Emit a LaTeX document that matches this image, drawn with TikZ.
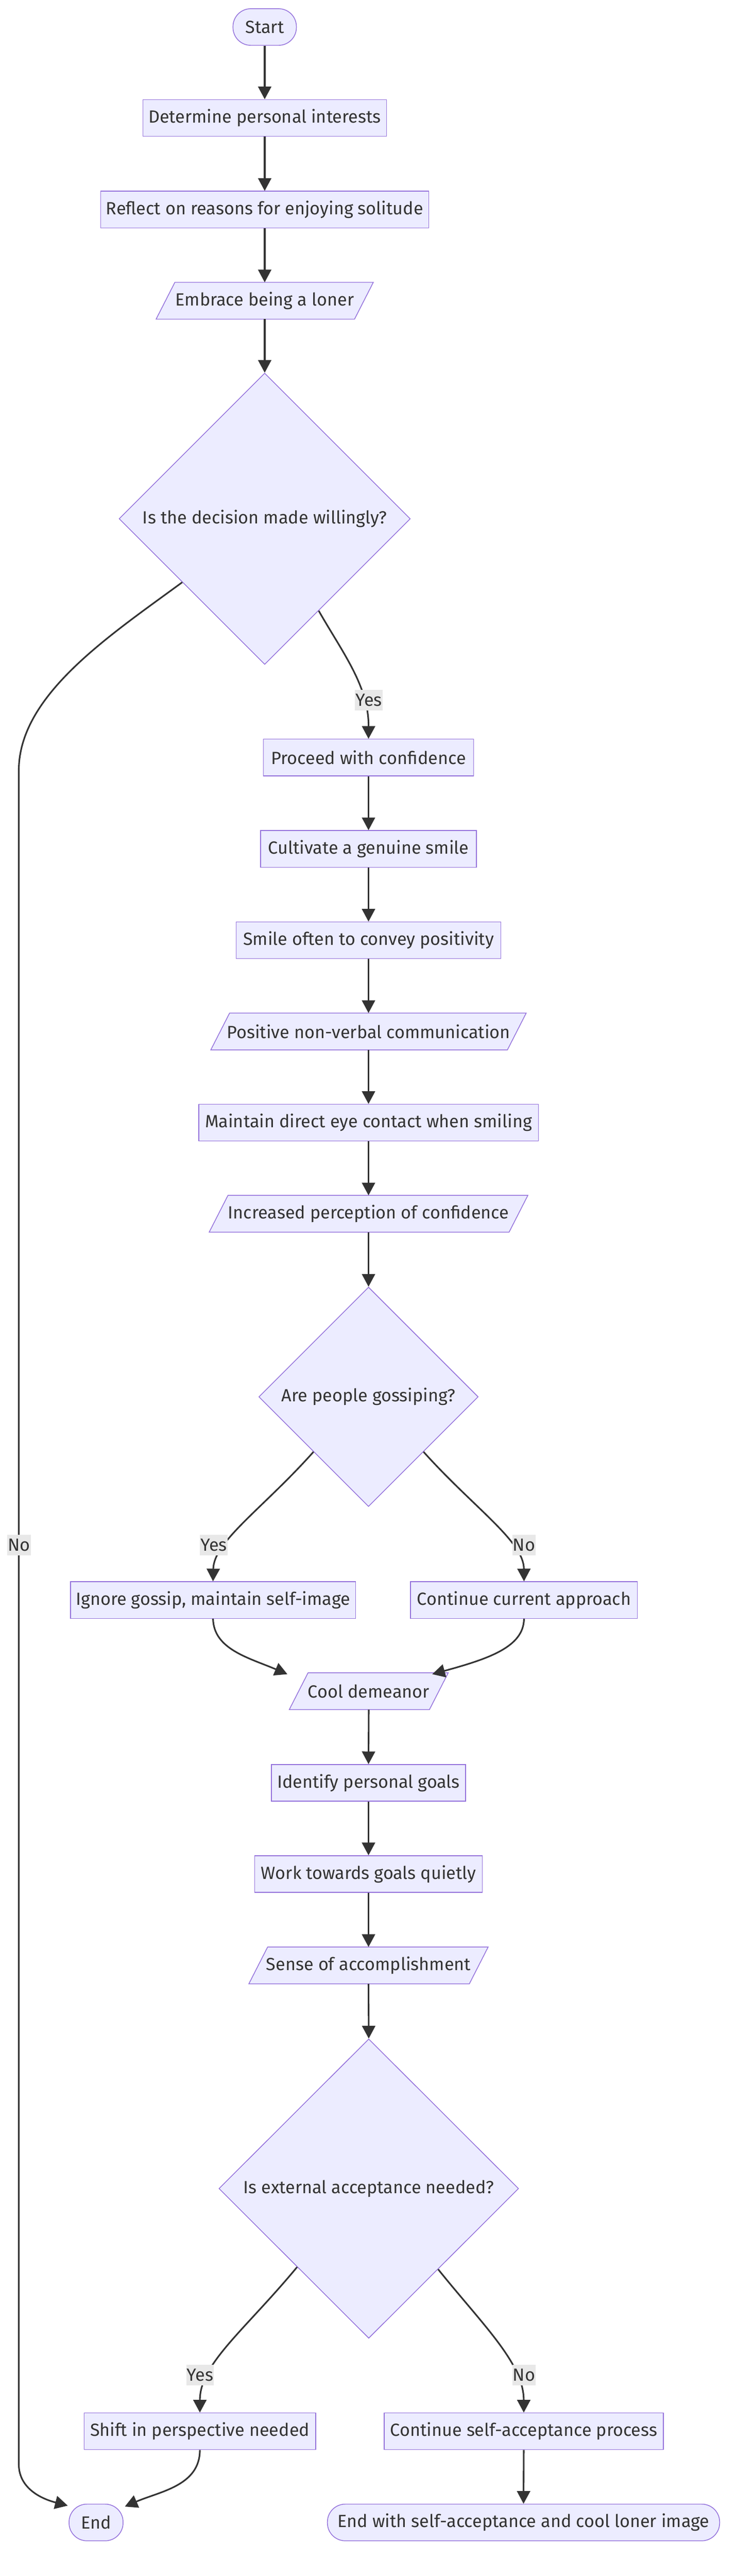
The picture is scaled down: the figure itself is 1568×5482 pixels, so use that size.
\documentclass[tikz,border=0pt]{standalone}
\usepackage{fontspec}
\setmainfont{Fira Sans}
\usetikzlibrary{shapes.geometric,arrows.meta,backgrounds,calc}
\definecolor{nfill}{HTML}{ECECFF}
\definecolor{nstroke}{HTML}{9370DB}
\definecolor{ecol}{HTML}{333333}
\definecolor{lbg}{HTML}{E8E8E8}
\definecolor{tcol}{HTML}{333333}
\tikzset{
  base/.style={font=\fontsize{37.5}{45}\selectfont, text=tcol, inner sep=0pt, align=center},
  procbox/.style={base, draw=nstroke, fill=nfill, line width=1.6pt, minimum height=78pt},
  termbox/.style={procbox, rounded corners=38pt},
  iobox/.style={base, minimum height=78pt},
  decbox/.style={base, diamond, draw=nstroke, fill=nfill, line width=1.6pt},
  flow/.style={draw=ecol, line width=3.4pt, -{Triangle[length=27pt,width=28pt]}},
  elabel/.style={base, fill=lbg, minimum height=44pt, inner xsep=1pt},
}
\newcommand\iopoly[1]{%
  \begin{pgfonlayer}{background}
    \draw[draw=nstroke, fill=nfill, line width=1.6pt]
      (#1.south west) -- ([xshift=40pt]#1.north west) -- (#1.north east)
      -- ([xshift=-40pt]#1.south east) -- cycle;
  \end{pgfonlayer}}
\begin{document}
\begin{tikzpicture}[x=1pt,y=-1pt]
\begin{pgfonlayer}{background}
  \fill[white] (0,0) rectangle (1568,5482);
\end{pgfonlayer}
\useasboundingbox (0,0) rectangle (1568,5482);

% nodes
\node[termbox, minimum width=135pt] (start) at (563.5,57.5) {Start};
\node[procbox, minimum width=519pt] (det) at (563.5,251) {Determine personal interests};
\node[procbox, minimum width=698pt] (refl) at (563.5,446) {Reflect on reasons for enjoying solitude};
\node[iobox, minimum width=462pt] (emb) at (563.5,640) {Embrace being a loner}; \iopoly{emb}
\node[decbox, minimum width=620pt, minimum height=620pt] (d1) at (563.5,1104) {Is the decision made willingly?};
\node[procbox, minimum width=447pt] (proc) at (784.5,1612) {Proceed with confidence};
\node[procbox, minimum width=459pt] (cult) at (784.5,1806.5) {Cultivate a genuine smile};
\node[procbox, minimum width=564pt] (smile) at (784.5,2001) {Smile often to convey positivity};
\node[iobox, minimum width=671pt] (pos) at (784.5,2195) {Positive non-verbal communication}; \iopoly{pos}
\node[procbox, minimum width=723pt] (maint) at (784.5,2389) {Maintain direct eye contact when smiling};
\node[iobox, minimum width=678pt] (incr) at (784.5,2583) {Increased perception of confidence}; \iopoly{incr}
\node[decbox, minimum width=467pt, minimum height=467pt] (d2) at (784.5,2972.5) {Are people gossiping?};
\node[procbox, minimum width=607pt] (ign) at (453.5,3405) {Ignore gossip, maintain self-image};
\node[procbox, minimum width=483pt] (cont) at (1115.5,3405) {Continue current approach};
\node[iobox, minimum width=338pt] (cool) at (785,3599) {Cool demeanor}; \iopoly{cool}
\node[procbox, minimum width=413pt] (ident) at (784.5,3794) {Identify personal goals};
\node[procbox, minimum width=485pt] (work) at (784.5,3988) {Work towards goals quietly};
\node[iobox, minimum width=509pt] (sense) at (784.5,4182.5) {Sense of accomplishment}; \iopoly{sense}
\node[decbox, minimum width=638pt, minimum height=637pt] (d3) at (785,4657.5) {Is external acceptance needed?};
\node[procbox, minimum width=493pt] (shift) at (425.5,5174) {Shift in perspective needed};
\node[procbox, minimum width=594pt] (cself) at (1115,5174) {Continue self-acceptance process};
\node[termbox, minimum width=115pt] (endn) at (204.5,5368) {End};
\node[termbox, minimum width=835pt] (endw) at (1114.5,5368) {End with self-acceptance and cool loner image};

% straight connectors
\draw[flow] (start.south) -- (det.north);
\draw[flow] (det.south) -- (refl.north);
\draw[flow] (refl.south) -- (emb.north);
\draw[flow] (emb.south) -- (d1.north);
\draw[flow] (proc.south) -- (cult.north);
\draw[flow] (cult.south) -- (smile.north);
\draw[flow] (smile.south) -- (pos.north);
\draw[flow] (pos.south) -- (maint.north);
\draw[flow] (maint.south) -- (incr.north);
\draw[flow] (incr.south) -- (d2.north);
\draw[flow] (cool.south) -- (ident.north);
\draw[flow] (ident.south) -- (work.north);
\draw[flow] (work.south) -- (sense.north);
\draw[flow] (sense.south) -- (d3.north);
\draw[flow] (cself.south) -- (endw.north);

% curved connectors
\draw[flow] ($(d1.west)!0.435!(d1.south)$) .. controls (230,1355) and (40,1480) .. (40,1640)
   -- (40,5244) .. controls (40,5292) and (82,5316) .. ([shift={(-2pt,-4pt)}]endn.north west);
\draw[flow] ($(d1.east)!0.63!(d1.south)$) .. controls (730,1390) and (785,1460) .. (proc.north);
\draw[flow] ($(d2.west)!0.5!(d2.south)$) .. controls (560,3210) and (455,3280) .. (ign.north);
\draw[flow] ($(d2.east)!0.5!(d2.south)$) .. controls (1010,3210) and (1115,3280) .. (cont.north);
\draw[flow] (ign.south) .. controls (455,3510) and (530,3528) .. ([shift={(-4pt,-3pt)}]cool.north west);
\draw[flow] (cont.south) .. controls (1115,3505) and (1040,3530) .. ([shift={(-34pt,-3pt)}]cool.north east);
\draw[flow] ($(d3.west)!0.523!(d3.south)$) .. controls (520,4960) and (425.5,5030) .. (shift.north);
\draw[flow] ($(d3.east)!0.538!(d3.south)$) .. controls (1030,4950) and (1115,5030) .. (cself.north);
\draw[flow] (shift.south) .. controls (425.5,5290) and (340,5302) .. ([shift={(3pt,-6pt)}]endn.north east);

% edge labels
\node[elabel] (l1) at (785,1490) {Yes};
\node[elabel] (l2) at (40.5,3288) {No};
\node[elabel] (l3) at (455,3288) {Yes};
\node[elabel] (l4) at (1115.5,3288) {No};
\node[elabel] (l5) at (426,5054) {Yes};
\node[elabel] (l6) at (1115.5,5054) {No};
\end{tikzpicture}
\end{document}
